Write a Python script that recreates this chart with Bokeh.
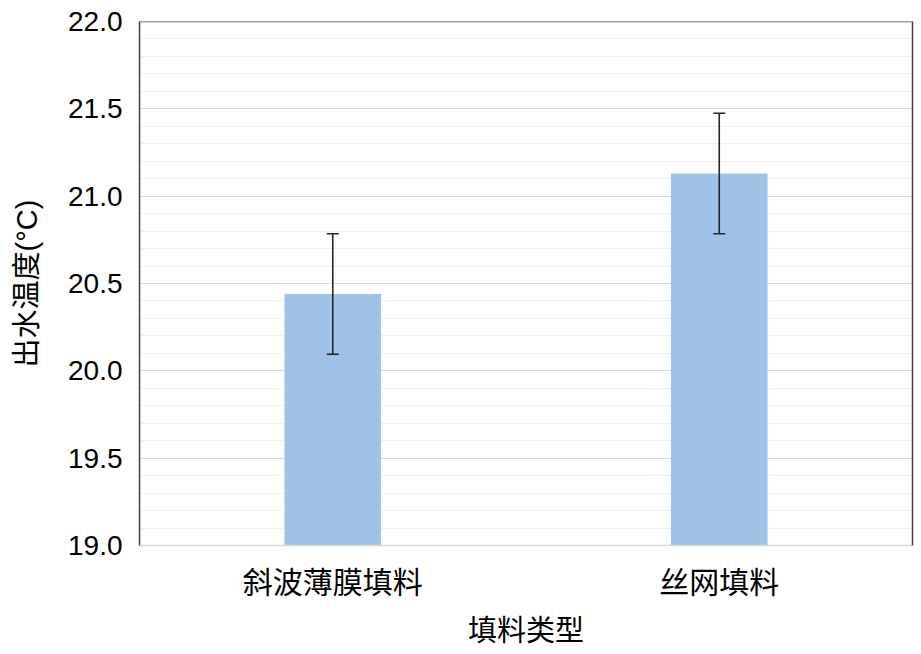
from bokeh.plotting import figure
from bokeh.models import (ColumnDataSource, Range1d, FactorRange, SingleIntervalTicker,
                          Whisker, TeeHead, LinearAxis, FixedTicker, Span, NumeralTickFormatter)
from bokeh.embed import file_html
from bokeh.resources import INLINE

categories = ["斜波薄膜填料", "丝网填料"]
means = [20.44, 21.13]
errors = [0.345, 0.345]
y_min, y_max = 19.0, 22.0
x_title = "填料类型"
y_title = "出水温度(°C)"

upper = [m + e for m, e in zip(means, errors)]
lower = [m - e for m, e in zip(means, errors)]
src = ColumnDataSource(dict(cat=categories, mean=means, upper=upper, lower=lower,
                            base=[y_min] * len(categories)))

p = figure(width=921, height=654, x_range=FactorRange(factors=categories),
           y_range=Range1d(y_min, y_max), output_backend="svg", toolbar_location=None,
           min_border_left=139, min_border_right=9, min_border_top=21, min_border_bottom=109)

p.vbar(x="cat", top="mean", bottom="base", width=0.25, source=src,
       fill_color="#9FC3E6", line_color=None)

w = Whisker(base="cat", upper="upper", lower="lower", source=src, level="overlay",
            line_color="#262626", line_width=1.6,
            upper_head=TeeHead(size=12, line_color="#262626", line_width=1.6),
            lower_head=TeeHead(size=12, line_color="#262626", line_width=1.6))
p.add_layout(w)

p.outline_line_color = None
p.xgrid.grid_line_color = None
p.yaxis.ticker = SingleIntervalTicker(interval=0.5, num_minor_ticks=5)
p.ygrid.ticker = p.yaxis.ticker
p.ygrid.grid_line_color = "#D9D9D9"
p.ygrid.grid_line_width = 1
p.ygrid.minor_grid_line_color = "#F0F0F0"
p.ygrid.minor_grid_line_width = 1

yax = p.yaxis[0]
yax.formatter = NumeralTickFormatter(format="0.0")
yax.major_tick_out = 0
yax.major_tick_in = 0
yax.minor_tick_out = 0
yax.minor_tick_in = 0
yax.axis_line_color = "#404040"
yax.axis_line_width = 1.5
yax.major_label_text_font = "Liberation Sans"
yax.major_label_text_font_size = "28px"
yax.major_label_text_color = "#000000"
yax.major_label_standoff = 17
yax.axis_label = y_title
yax.axis_label_text_font = "Liberation Sans, Noto Sans CJK SC"
yax.axis_label_text_font_size = "29px"
yax.axis_label_text_font_style = "normal"
yax.axis_label_text_color = "#000000"
yax.axis_label_standoff = 22

xax = p.xaxis[0]
xax.major_tick_out = 0
xax.major_tick_in = 0
xax.axis_line_color = "#D9D9D9"
xax.axis_line_width = 1.5
xax.major_label_text_font = "Noto Sans CJK SC"
xax.major_label_text_font_size = "30px"
xax.major_label_text_color = "#000000"
xax.major_label_standoff = 12
xax.axis_label = x_title
xax.axis_label_text_font = "Noto Sans CJK SC"
xax.axis_label_text_font_size = "29px"
xax.axis_label_text_font_style = "normal"
xax.axis_label_text_color = "#000000"
xax.axis_label_standoff = 2

rax = LinearAxis(ticker=FixedTicker(ticks=[]), axis_line_color="#404040", axis_line_width=1.5,
                 major_tick_out=0, minor_tick_out=0, major_label_standoff=0)
p.add_layout(rax, "right")
p.add_layout(Span(location=y_max, dimension="width", line_color="#404040", line_width=1.5))

open("out.html", "w").write(file_html(p, INLINE))
